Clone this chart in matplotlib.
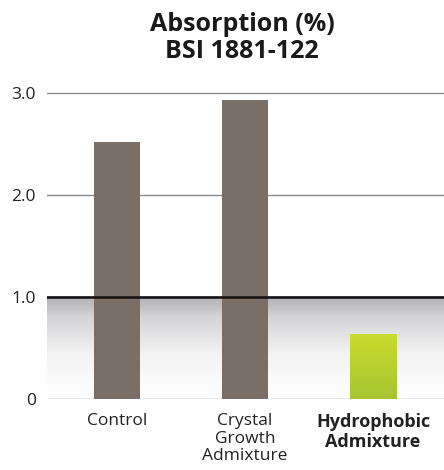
import matplotlib
matplotlib.use("Agg")
import matplotlib.pyplot as plt
import numpy as np
from matplotlib.colors import LinearSegmentedColormap

categories = ["Control", "Crystal\nGrowth\nAdmixture", "Hydrophobic\nAdmixture"]
values = [2.52, 2.93, 0.63]
yticks = [0, 1.0, 2.0, 3.0]
ytick_labels = ["0", "1.0", "2.0", "3.0"]
limit_value = 1.0

plt.rcParams['font.family'] = ['Open Sans', 'DejaVu Sans']

fig = plt.figure(figsize=(4.44, 4.70), dpi=100)
ax = fig.add_axes([47/444, 71/470, 397/444, 3.2*102.1/470])
ax.set_xlim(-0.547, 2.555)
ax.set_ylim(0, 3.2)

# gradient below limit line
grad = np.linspace(0, 1, 256).reshape(-1, 1)
cmap = LinearSegmentedColormap.from_list("g", [(0, "#ffffff"), (0.45, "#f2f2f3"), (0.8, "#d4d4d6"), (1.0, "#b0b0b2")])
ax.imshow(grad, extent=[-0.547, 2.555, 0, limit_value], origin="lower", aspect="auto", cmap=cmap, zorder=0)

for y in [2.0, 3.0]:
    ax.axhline(y, color="#8a8a8a", lw=1.0, zorder=1)
ax.axhline(0, color="#9a9a9a", lw=1.0, zorder=1)

x = np.arange(len(categories))
colors = ["#7a6f67", "#7a6f67", None]
for i, v in enumerate(values):
    if i < 2:
        ax.bar(x[i], v, width=0.36, color=colors[i], zorder=2)
    else:
        bg = np.linspace(0, 1, 128).reshape(-1, 1)
        gcmap = LinearSegmentedColormap.from_list("gb", ["#a6c532", "#c8dc2c"])
        ax.imshow(bg, extent=[x[i]-0.18, x[i]+0.18, 0, v], origin="lower", aspect="auto", cmap=gcmap, zorder=2)

ax.axhline(limit_value, color="#111111", lw=1.8, zorder=3)

for s in ax.spines.values():
    s.set_visible(False)
ax.set_yticks(yticks)
ax.set_yticklabels(ytick_labels, fontsize=12.5, color="#222222")
ax.tick_params(axis="y", length=0, pad=8)
ax.set_xticks(x)
ax.set_xticklabels(categories, fontsize=12.5, color="#222222", linespacing=1.15, va="top")
ax.tick_params(axis="x", length=0, pad=10)
lab = ax.get_xticklabels()
lab[2].set_fontweight("bold")
lab[2].set_fontsize(13)

fig.text(0.545, 1 - 38/470, "Absorption (%)\nBSI 1881-122", ha="center", va="center",
         fontsize=18, fontweight="bold", color="#1a1a1a", linespacing=1.1)

fig.savefig("out.png", dpi=100)
